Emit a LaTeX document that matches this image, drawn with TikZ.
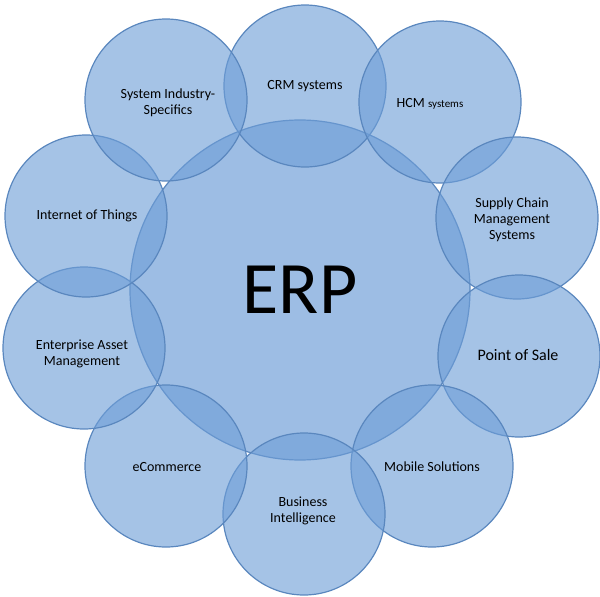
\documentclass[tikz,border=0pt]{standalone}
\usepackage{fontspec}
\setmainfont{Carlito}
\usetikzlibrary{positioning}
\definecolor{erpfill}{RGB}{110,158,215}
\definecolor{erpline}{RGB}{90,135,190}
\begin{document}
\begin{tikzpicture}[
    x=1pt, y=-1pt,
    hub/.style={circle, draw=erpline, line width=1.2pt, fill=erpfill, fill opacity=0.68, text opacity=1, minimum size=340pt, inner sep=0pt},
    module/.style={circle, draw=erpline, line width=1.2pt, fill=erpfill, fill opacity=0.62, text opacity=1, minimum size=162pt, inner sep=0pt},
    modname/.style={align=center, font=\fontsize{14}{16}\selectfont, text=black}
  ]
    \useasboundingbox (0,0) rectangle (600,597);

    \node (erp) [hub] at (300,290) {};
    \node (erp-t) [font=\fontsize{74}{74}\selectfont] at (300,290) {ERP};

    \node (crm) [module] at (305,86) {};
    \node (hcm) [module] at (440,102) {};
    \node (scm) [module] at (517,218) {};
    \node (pos) [module] at (519,356) {};
    \node (mob) [module] at (432,466) {};
    \node (bi)  [module] at (304,514) {};
    \node (ecom) [module] at (166,466) {};
    \node (eam) [module] at (84,348) {};
    \node (iot) [module] at (86,216) {};
    \node (sis) [module] at (166,100) {};

    \node [modname] at (305,86) {CRM systems};
    \node [modname] at (430,104) {HCM {\fontsize{11}{13}\selectfont systems}};
    \node [modname] at (512,220) {Supply Chain\\Management\\Systems};
    \node [modname, font=\fontsize{16}{18}\selectfont] at (518,355) {Point of Sale};
    \node [modname] at (432,467) {Mobile Solutions};
    \node [modname] at (303,511) {Business\\Intelligence};
    \node [modname] at (167,467) {eCommerce};
    \node [modname] at (82,354) {Enterprise Asset\\Management};
    \node [modname] at (87,216) {Internet of Things};
    \node [modname] at (168,103) {System Industry-\\Specifics};
  \end{tikzpicture}
\end{document}
